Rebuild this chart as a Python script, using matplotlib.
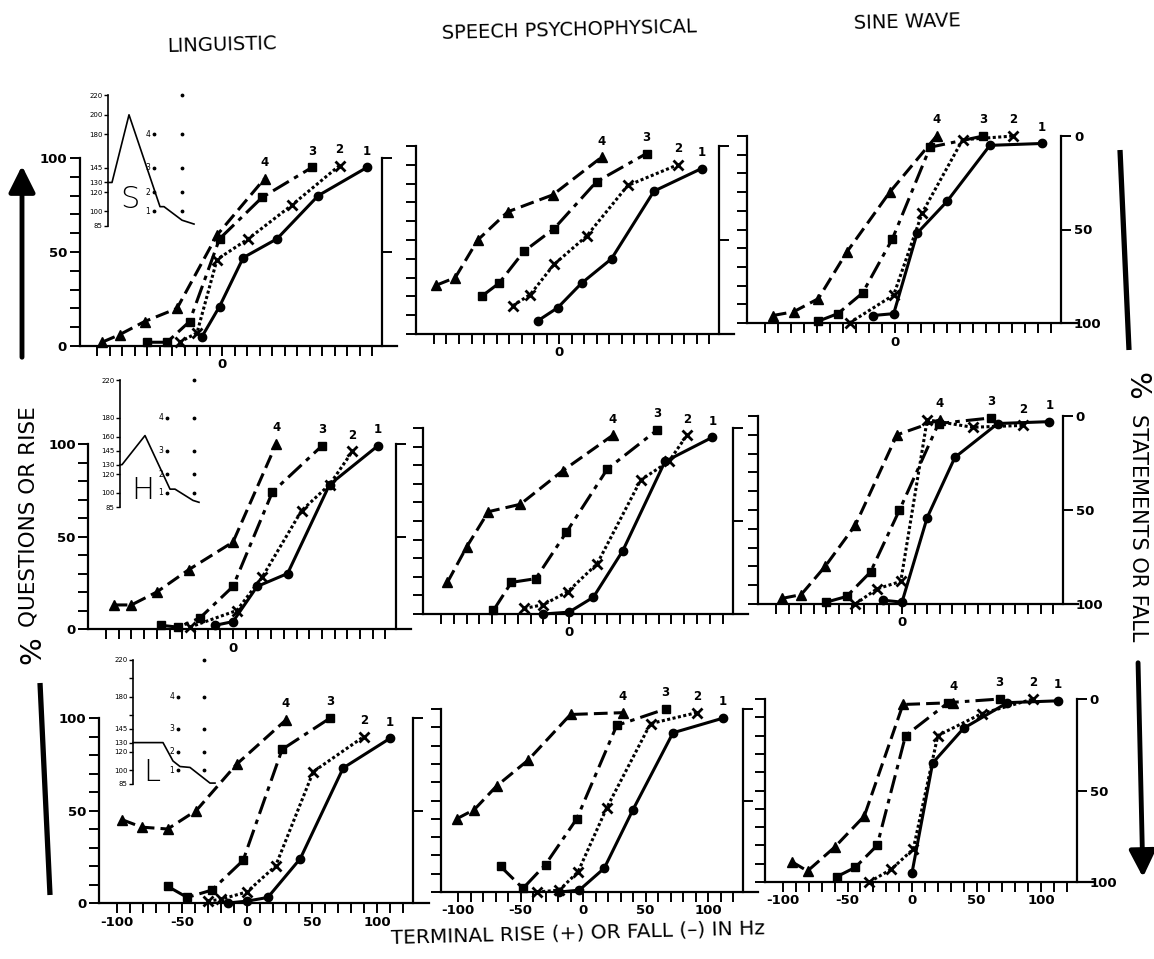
import numpy as np
import matplotlib
matplotlib.use('Agg')
import matplotlib.pyplot as plt

W, H = 1154, 959

# terminal rise/fall (Hz) and % "question" responses, series 1..4 per panel
lin_s_hz = [[-16, -2, 17, 44, 77, 116], [-34, -20, -4, 21, 56, 94],
            [-60, -44, -26, -2, 32, 72], [-96, -82, -62, -36, -4, 34]]
lin_s_pct = [[5, 21, 47, 57, 80, 95], [2, 7, 46, 57, 75, 96],
             [2, 2, 13, 57, 79, 95], [2, 6, 13, 20, 59, 89]]
sp_s_hz = [[-17, -1, 18, 42, 76, 114], [-37, -23, -4, 22, 55, 95],
           [-62, -48, -28, -4, 30, 70], [-98, -83, -65, -41, -5, 34]]
sp_s_pct = [[7, 14, 27, 40, 76, 88], [15, 21, 37, 52, 79, 90],
            [20, 27, 44, 56, 81, 96], [26, 30, 50, 65, 74, 94]]
sw_s_hz = [[-17, -1, 17, 40, 73, 113], [-35, -1, 21, 52, 91],
           [-59, -44, -25, -2, 27, 68], [-94, -78, -59, -37, -4, 32]]
sw_s_pct = [[4, 5, 48, 65, 95, 96], [0, 15, 59, 98, 100],
            [1, 5, 16, 45, 94, 100], [4, 6, 13, 38, 70, 100]]

lin_h_hz = [[-14, 0, 19, 43, 76, 114], [-34, 3, 23, 54, 76, 94],
            [-57, -43, -26, 0, 31, 70], [-94, -80, -60, -35, 0, 34]]
lin_h_pct = [[2, 4, 23, 30, 78, 99], [1, 10, 28, 64, 78, 96],
             [2, 1, 6, 23, 74, 99], [13, 13, 20, 32, 47, 100]]
sp_h_hz = [[-20, 0, 19, 42, 75, 112], [-35, -20, -1, 22, 56, 78, 92],
           [-59, -45, -26, -2, 30, 69], [-95, -80, -63, -38, -5, 34]]
sp_h_pct = [[0, 1, 9, 34, 82, 95], [3, 5, 12, 27, 72, 82, 96],
            [2, 17, 19, 44, 78, 99], [17, 36, 55, 59, 77, 96]]
sw_h_hz = [[-15, 0, 20, 42, 76, 117], [-37, -20, -1, 20, 56, 96],
           [-60, -44, -25, -2, 29, 71], [-95, -80, -61, -37, -4, 30]]
sw_h_pct = [[2, 1, 46, 78, 96, 97], [0, 8, 12, 98, 94, 95],
            [1, 4, 17, 50, 96, 99], [3, 5, 20, 42, 90, 98]]

lin_l_hz = [[-15, 0, 16, 41, 74, 110], [-30, -20, 0, 22, 51, 90],
            [-61, -46, -27, -3, 27, 64], [-96, -81, -61, -39, -8, 30]]
lin_l_pct = [[0, 1, 3, 24, 73, 89], [1, 2, 6, 20, 71, 90],
             [9, 3, 7, 23, 83, 100], [45, 41, 40, 50, 75, 99]]
sp_l_hz = [[-19, -3, 17, 40, 72, 112], [-37, -19, -4, 19, 54, 91],
           [-66, -48, -30, -5, 27, 66], [-101, -87, -69, -44, -10, 32]]
sp_l_pct = [[0, 1, 13, 45, 87, 95], [0, 1, 11, 46, 92, 98],
            [14, 2, 15, 40, 91, 100], [40, 45, 58, 72, 97, 98]]
sw_l_hz = [[0, 16, 40, 74, 113], [-33, -16, 1, 20, 54, 94],
           [-58, -44, -27, -5, 28, 68], [-93, -81, -60, -37, -7, 32]]
sw_l_pct = [[5, 65, 84, 98, 99], [0, 7, 18, 80, 92, 100],
            [3, 8, 20, 80, 98, 100], [11, 6, 19, 36, 97, 98]]

# F0 contours of the S, H, L stimuli (time units, Hz) for the insets
s_t = [0, 4, 21, 52, 56, 74, 86]
s_f0 = [130, 130, 200, 105, 105, 91, 87]
h_t = [0, 2, 25, 50, 55, 73, 79]
h_f0 = [130, 130, 161, 104, 104, 92, 90]
l_t = [0, 30, 40, 47, 57, 77, 82]
l_f0 = [130, 130, 110, 104, 103, 86, 86]
end_levels = [100, 120, 145, 180]
end_levels2 = [100, 120, 145, 180, 220]

titles = ['LINGUISTIC', 'SPEECH PSYCHOPHYSICAL', 'SINE WAVE']

# panel geometry in pixels: (x of 0 Hz, y of 0 %, px per Hz, px per %)
geom = [[(222, 346, 1.25, 1.88), (559, 334, 1.25, 1.88), (895, 323, 1.30, 1.87)],
        [(233, 629, 1.27, 1.85), (569, 614, 1.28, 1.86), (902, 604, 1.26, 1.88)],
        [(247, 903, 1.30, 1.85), (583, 892, 1.25, 1.83), (912, 882, 1.29, 1.83)]]

styles = [dict(ls='-', marker='o', ms=6),
          dict(ls=(0, (1, 0.8)), marker='x', ms=7, mew=2),
          dict(ls=(0, (6, 2, 1.5, 2)), marker='s', ms=5.5),
          dict(ls=(0, (4.5, 2)), marker='^', ms=7)]

fig = plt.figure(figsize=(W / 100, H / 100), dpi=100)
fig.patch.set_facecolor('white')

# overlay in pixel coordinates for titles, arrows, axis labels
ov = fig.add_axes([0, 0, 1, 1])
ov.set_xlim(0, W)
ov.set_ylim(H, 0)
ov.axis('off')

XL, XR = -125, 142


def panel(row, col, hz, pct):
    x0, y0, kx, ky = geom[row][col]
    ax = fig.add_axes([(x0 + XL * kx) / W, (H - y0) / H,
                       (XR - XL) * kx / W, 100 * ky / H])
    ax.set_xlim(XL, XR)
    ax.set_ylim(0, 100)
    ax.patch.set_alpha(0)
    ax.spines['top'].set_visible(False)
    ax.spines['right'].set_visible(False)
    ax.spines['left'].set_position(('data', -114))
    ax.spines['left'].set_bounds(0, 100)
    ax.spines['bottom'].set_bounds(-114, 140)
    for s in ('left', 'bottom'):
        ax.spines[s].set_linewidth(1.6)
    ax.set_xticks(np.arange(-100, 121, 10))
    if row == 2:
        ax.set_xticklabels([str(v) if v % 50 == 0 else '' for v in range(-100, 121, 10)])
    else:
        ax.set_xticklabels(['0' if v == 0 else '' for v in range(-100, 121, 10)])
    ax.set_yticks(np.arange(0, 101, 10))
    if col == 0:
        ax.set_yticklabels([str(v) if v % 50 == 0 else '' for v in range(0, 101, 10)])
    else:
        ax.set_yticklabels([])
    ax.tick_params(direction='out', length=7, width=1.4, labelsize=9.5, pad=2)
    for lab in ax.get_xticklabels() + ax.get_yticklabels():
        lab.set_fontweight('bold')

    sec = ax.secondary_yaxis((128 - XL) / (XR - XL),
                             functions=(lambda v: 100 - v, lambda v: 100 - v))
    sec.set_yticks([0, 50, 100])
    sec.spines['right'].set_linewidth(1.6)
    sec.tick_params(direction='out', length=7, width=1.4, labelsize=9.5, pad=2,
                    labelright=(col == 2))
    for lab in sec.get_yticklabels():
        lab.set_fontweight('bold')

    for i in range(4):
        st = styles[i]
        ax.plot(hz[i], pct[i], color='k', lw=2.2, ls=st['ls'], marker=st['marker'],
                ms=st['ms'], mew=st.get('mew', 1), clip_on=False, zorder=3)
        ax.annotate(str(i + 1), (hz[i][-1], pct[i][-1]), xytext=(0, 7),
                    textcoords='offset points', ha='center', va='bottom',
                    fontsize=8.5, fontweight='bold')
    return ax


panels = [[(lin_s_hz, lin_s_pct), (sp_s_hz, sp_s_pct), (sw_s_hz, sw_s_pct)],
          [(lin_h_hz, lin_h_pct), (sp_h_hz, sp_h_pct), (sw_h_hz, sw_h_pct)],
          [(lin_l_hz, lin_l_pct), (sp_l_hz, sp_l_pct), (sw_l_hz, sw_l_pct)]]
for r in range(3):
    for c in range(3):
        panel(r, c, *panels[r][c])


def inset(ax_x, y85, k, ticks, labels, t, f0, c1, c2, letter, lpos):
    ax = fig.add_axes([ax_x / W, (H - y85) / H, 100 / W, 135 * k / H])
    ax.set_xlim(0, 100)
    ax.set_ylim(85, 220)
    ax.patch.set_alpha(0)
    for s in ('top', 'right', 'bottom'):
        ax.spines[s].set_visible(False)
    ax.spines['left'].set_linewidth(1.2)
    ax.set_xticks([])
    ax.set_yticks(ticks)
    ax.set_yticklabels(labels)
    ax.tick_params(axis='y', direction='out', length=3, width=1, labelsize=5, pad=1)
    ax.plot(t, f0, color='k', lw=1.2, clip_on=False)
    ax.plot([c1] * 4, end_levels, 'k.', ms=3.5, clip_on=False)
    ax.plot([c2] * 5, end_levels2, 'k.', ms=3.5, clip_on=False)
    for i, lv in enumerate(end_levels):
        ax.text(c1 - 6, lv, str(i + 1), fontsize=5.5, ha='center', va='center')
    ax.text(lpos[0], lpos[1], letter, fontsize=22, ha='center', va='center',
            family='DejaVu Sans', fontweight='light')


inset(108, 226, 0.967, [85, 100, 120, 130, 145, 180, 200, 220],
      ['85', '100', '120', '130', '145', '180', '200', '220'],
      s_t, s_f0, 46, 74, 'S', (22, 112))
inset(120, 507, 0.94, [85, 100, 120, 130, 145, 160, 180, 220],
      ['85', '100', '120', '130', '145', '160', '180', '220'],
      h_t, h_f0, 47, 74, 'H', (23, 103))
inset(133, 784, 0.92, [85, 100, 120, 130, 145, 160, 180, 200, 220],
      ['85', '100', '120', '130', '145', '', '180', '', '220'],
      l_t, l_f0, 45, 71, 'L', (19, 98))

# column titles
ov.text(222, 45, titles[0], fontsize=14, ha='center', va='center', rotation=1.5)
ov.text(569, 30, titles[1], fontsize=14, ha='center', va='center', rotation=1.5)
ov.text(907, 22, titles[2], fontsize=14, ha='center', va='center', rotation=1.5)
ov.text(578, 933, 'TERMINAL RISE (+) OR FALL (\u2013) IN Hz', fontsize=14.5,
        ha='center', va='center', rotation=1.5)

# side labels
ov.text(29, 517, 'QUESTIONS OR RISE', fontsize=15.5, rotation=90, ha='center', va='center')
ov.text(32, 650, '%', fontsize=21, rotation=90, ha='center', va='center')
ov.text(1138, 528, 'STATEMENTS OR FALL', fontsize=15, rotation=-90, ha='center', va='center')
ov.text(1136, 386, '%', fontsize=21, rotation=-90, ha='center', va='center')

# arrows and bars
ov.annotate('', xy=(22, 163), xytext=(22, 360),
            arrowprops=dict(arrowstyle='-|>,head_length=0.8,head_width=0.4',
                            lw=3.5, color='k', mutation_scale=20))
ov.plot([40, 50], [683, 895], color='k', lw=3.8, solid_capstyle='butt')
ov.plot([1120, 1129], [150, 350], color='k', lw=3.8, solid_capstyle='butt')
ov.annotate('', xy=(1143, 880), xytext=(1138, 660),
            arrowprops=dict(arrowstyle='-|>,head_length=0.8,head_width=0.4',
                            lw=3.5, color='k', mutation_scale=20))

plt.savefig('out.png', dpi=100)
